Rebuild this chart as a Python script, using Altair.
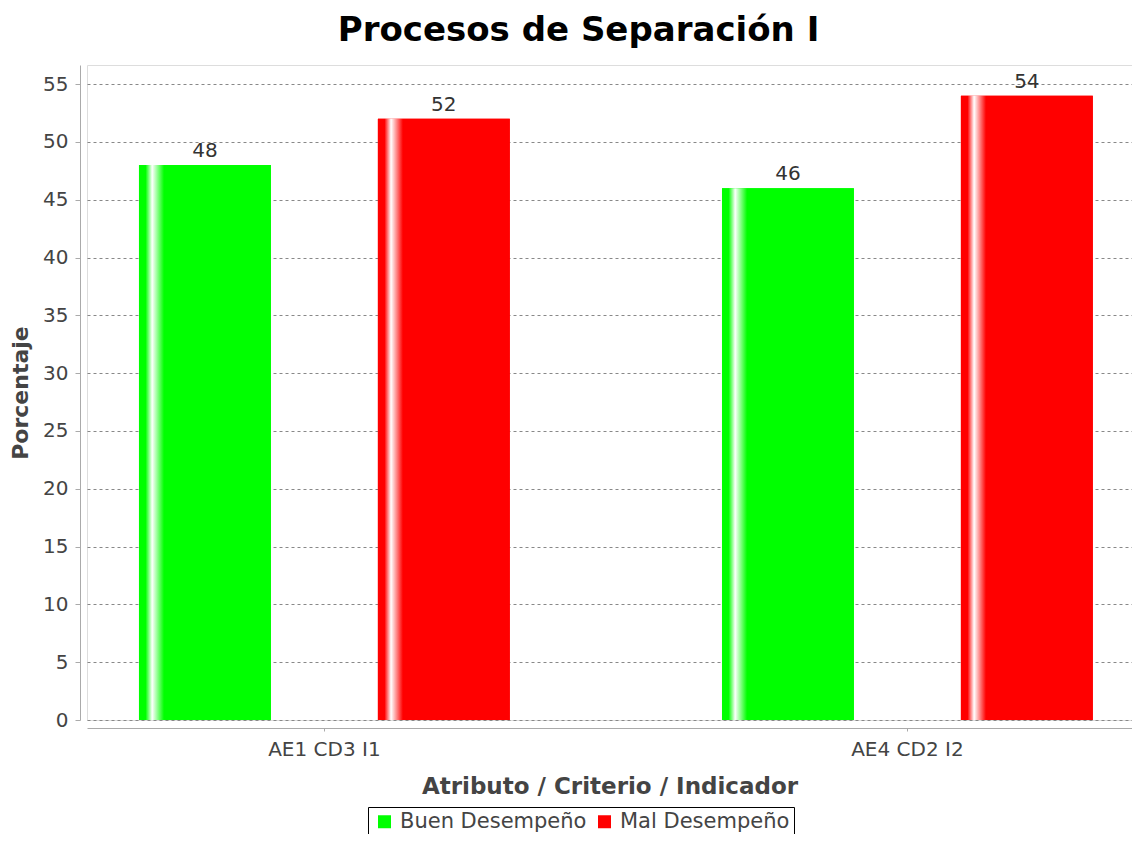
import altair as alt
import pandas as pd

categorias = ["AE1 CD3 I1", "AE4 CD2 I2"]
series = ["Buen Desempeño", "Mal Desempeño"]
buen = [48, 46]
mal = [52, 54]
colores = ["#00ff00", "#ff0000"]

rows = []
for i, c in enumerate(categorias):
    rows.append({"categoria": c, "serie": series[0], "valor": buen[i]})
    rows.append({"categoria": c, "serie": series[1], "valor": mal[i]})
df = pd.DataFrame(rows)

FONT = "DejaVu Sans"

x_enc = alt.X("categoria:N", sort=categorias,
              scale=alt.Scale(paddingInner=0.364, paddingOuter=0.0782, align=0.57),
              axis=alt.Axis(title="Atributo / Criterio / Indicador", labelAngle=0,
                            offset=8, domainColor="#aaaaaa", tickColor="#aaaaaa",
                            tickSize=3, labelFontSize=20, labelColor="#444444",
                            labelFont=FONT, titleFont=FONT, titleFontSize=23,
                            titleFontWeight="bold", titleColor="#444444",
                            labelPadding=8, titlePadding=16, grid=False))
xo_enc = alt.XOffset("serie:N", sort=series,
                     scale=alt.Scale(paddingInner=0.448, paddingOuter=0))
y_enc = alt.Y("valor:Q",
              scale=alt.Scale(domain=[0, 56.65], nice=False, zero=True),
              axis=alt.Axis(title="Porcentaje", values=list(range(0, 56, 5)),
                            offset=7, domainColor="#aaaaaa", tickColor="#aaaaaa",
                            tickSize=5, labelFontSize=20, labelColor="#444444",
                            labelFont=FONT, titleFont=FONT, titleFontSize=22,
                            titleFontWeight="bold", titleColor="#444444",
                            labelPadding=7, titlePadding=10,
                            grid=True, gridColor="#888888", gridDash=[3, 3],
                            gridWidth=1))

base = alt.Chart(df)

legend_bars = base.mark_bar().encode(
    x=x_enc, xOffset=xo_enc, y=y_enc,
    color=alt.Color("serie:N", sort=series,
                    scale=alt.Scale(domain=series, range=colores),
                    legend=alt.Legend(title=None, orient="none", direction="horizontal",
                                      legendX=281, legendY=742,
                                      strokeColor="#000000", fillColor="#ffffff",
                                      padding=4, symbolType="square", symbolSize=169,
                                      symbolStrokeWidth=0, labelFontSize=21,
                                      labelFont=FONT, labelColor="#444444",
                                      labelLimit=400,
                                      columnPadding=5, symbolOffset=2,
                                      labelOffset=5)),
)

def grad(col):
    return alt.Gradient(gradient="linear", x1=0, x2=1, y1=0, y2=0,
                        stops=[alt.GradientStop(offset=0, color=col),
                               alt.GradientStop(offset=0.05, color=col),
                               alt.GradientStop(offset=0.1, color="#ffffff"),
                               alt.GradientStop(offset=0.19, color=col),
                               alt.GradientStop(offset=1, color=col)])

layers = [legend_bars]
for s, col in zip(series, colores):
    layers.append(
        base.transform_filter(alt.datum.serie == s)
        .mark_bar(color=grad(col))
        .encode(x=x_enc, xOffset=xo_enc, y=y_enc)
    )

labels = base.mark_text(baseline="bottom", dy=-4, fontSize=20, font=FONT,
                        color="#333333").encode(
    x=x_enc, xOffset=xo_enc, y=y_enc, text=alt.Text("valor:Q"))
layers.append(labels)

chart = alt.layer(*layers).properties(
    width=1045, height=655,
    title=alt.TitleParams("Procesos de Separación I", font=FONT, fontSize=34,
                          fontWeight="bold", color="#000000", anchor="middle",
                          offset=17, dx=-31),
    autosize=alt.AutoSizeParams(type="none"),
    padding={"left": 79, "top": 57, "right": 0, "bottom": 114},
).configure_view(stroke="#888888", strokeWidth=1.5).configure(background="white")

chart.save("out.html", embed_options={"renderer": "svg", "actions": False})
